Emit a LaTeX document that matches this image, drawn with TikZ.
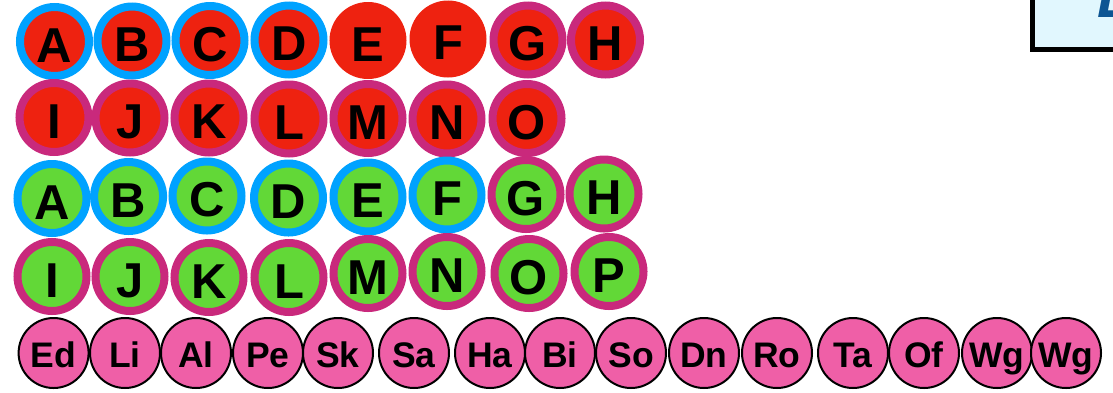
\documentclass[tikz,border=0pt]{standalone}
\usepackage{fontspec}
\newfontfamily\lsans{Liberation Sans}
\newcommand\cbigfont{\lsans\bfseries\fontsize{49}{49}\selectfont}
\newcommand\csmallfont{\lsans\bfseries\fontsize{35.5}{35.5}\selectfont}
\newcommand\cboxfont{\lsans\bfseries\itshape\fontsize{60}{60}\selectfont}
\definecolor{redc}{HTML}{EE2210}
\definecolor{bluec}{HTML}{00A2FF}
\definecolor{magc}{HTML}{C9297C}
\definecolor{greenc}{HTML}{62D837}
\definecolor{pinkc}{HTML}{EF5FA7}
\definecolor{boxfill}{HTML}{E1F7FE}
\definecolor{boxtext}{HTML}{0C5593}
\tikzset{
  big/.style={circle, minimum size=69pt, inner sep=0pt, line width=8pt,
    font=\cbigfont, text height=41pt, text depth=0pt},
  redb/.style={big, fill=redc},
  greenb/.style={big, fill=greenc},
  bl/.style={draw=bluec},
  mg/.style={draw=magc},
  rd/.style={draw=redc},
  small/.style={circle, minimum size=70pt, inner sep=0pt, line width=2pt,
    draw=black, fill=pinkc, font=\csmallfont, text height=29.5pt, text depth=0pt},
  titlebox/.style={draw=black, line width=5pt, fill=boxfill},
}
\begin{document}
\begin{tikzpicture}[x=1pt,y=-1pt]
\useasboundingbox (0,0) rectangle (1113,392);
% top-right box (cut off by the page edge)
\begin{scope}
  \clip (0,0) rectangle (1113,392);
  \draw[titlebox] (1032.5,-30) rectangle (1160,49.5);
  \node[anchor=base west, inner sep=0pt, text=boxtext, font=\cboxfont] (boxtitle) at (1097,17) {L};
\end{scope}
% row 1
\node[redb,bl] (r1A) at (54.5,41.5) {A};
\node[redb,bl] (r1B) at (132,41) {B};
\node[redb,bl] (r1C) at (210,40.5) {C};
\node[redb,bl] (r1D) at (289,40) {D};
\node[redb,rd] (r1E) at (368,40.5) {E};
\node[redb,rd] (r1F) at (448,39) {F};
\node[redb,mg] (r1G) at (528,40) {G};
\node[redb,mg] (r1H) at (605.5,40) {H};
% row 2
\node[redb,mg] (r2I) at (54,117.5) {I};
\node[redb,mg] (r2J) at (130,118) {J};
\node[redb,mg] (r2K) at (209,118) {K};
\node[redb,mg] (r2L) at (289,119) {L};
\node[redb,mg] (r2M) at (368,118.5) {M};
\node[redb,mg] (r2N) at (447,119) {N};
\node[redb,mg] (r2O) at (527,118.5) {O};
% row 3
\node[greenb,bl] (g3A) at (52,198.5) {A};
\node[greenb,bl] (g3B) at (128.6,196.5) {B};
\node[greenb,bl] (g3C) at (207,196) {C};
\node[greenb,bl] (g3D) at (288.5,198) {D};
\node[greenb,bl] (g3E) at (368,197) {E};
\node[greenb,bl] (g3F) at (447,195) {F};
\node[greenb,mg] (g3G) at (526,194.5) {G};
\node[greenb,mg] (g3H) at (604,194) {H};
% row 4
\node[greenb,mg] (g4I) at (52,276.5) {I};
\node[greenb,mg] (g4J) at (130,276.5) {J};
\node[greenb,mg] (g4K) at (209,277.5) {K};
\node[greenb,mg] (g4L) at (289,277.5) {L};
\node[greenb,mg] (g4M) at (368,273.5) {M};
\node[greenb,mg] (g4N) at (447,271.5) {N};
\node[greenb,mg] (g4O) at (529,273.5) {O};
\node[greenb,mg] (g4P) at (609,271.5) {P};
% bottom row
\node[small] (bEd) at (53.6,353) {Ed};
\node[small] (bLi) at (125,353) {Li};
\node[small] (bAl) at (196,353) {Al};
\node[small] (bPe) at (268,353) {Pe};
\node[small] (bSk) at (338,353) {Sk};
\node[small] (bSa) at (414,353) {Sa};
\node[small] (bHa) at (490,353) {Ha};
\node[small] (bBi) at (560,353) {Bi};
\node[small] (bSo) at (631,353) {So};
\node[small] (bDn) at (704,353) {Dn};
\node[small] (bRo) at (777,353) {Ro};
\node[small] (bTa) at (853,353) {Ta};
\node[small] (bOf) at (924,353) {Of};
\node[small] (bWgA) at (997,353) {Wg};
\node[small] (bWgB) at (1066,353) {Wg};
\end{tikzpicture}
\end{document}
